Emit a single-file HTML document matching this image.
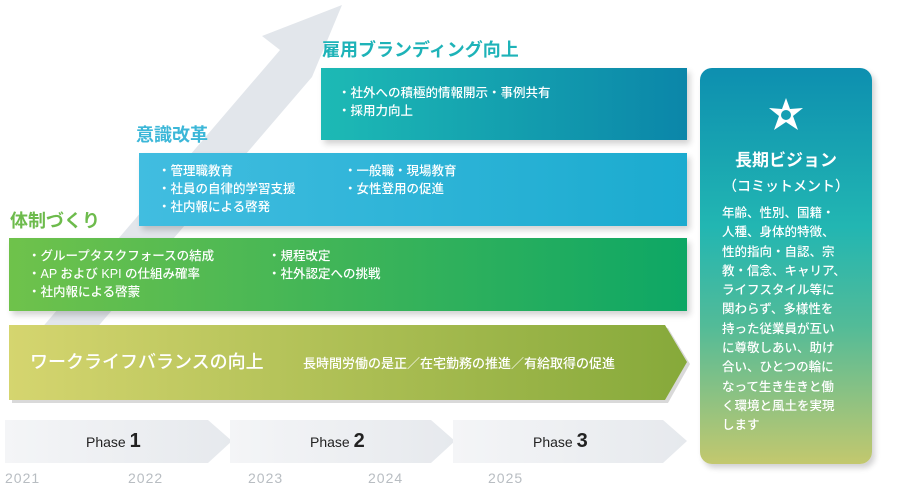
<!DOCTYPE html>
<html><head><meta charset="utf-8"><style>
body{margin:0;width:900px;height:488px;background:#fff;position:relative;overflow:hidden;font-family:"Liberation Sans","Noto Sans CJK JP",sans-serif}
.a{position:absolute;white-space:nowrap}
.box{position:absolute;box-shadow:3px 4px 6px rgba(0,0,0,.18)}
.t{font-weight:bold;font-size:18px}
.li{color:#fff;font-size:12.5px;line-height:18px;position:absolute;font-weight:500;white-space:nowrap}
.yr{position:absolute;top:470px;font-size:14px;color:#b8bdc2;letter-spacing:1px;font-weight:500}
.ph{position:absolute;top:430px;font-size:14px;color:#222;font-weight:500}
.ph b{font-size:20px;font-weight:bold}
</style></head><body>
<svg class="a" style="left:0;top:0" width="900" height="488">
<defs>
<linearGradient id="ph" x1="0" x2="1"><stop offset="0" stop-color="#f4f5f7"/><stop offset="1" stop-color="#e6e9ed"/></linearGradient>
<linearGradient id="wl" x1="0" x2="1"><stop offset="0" stop-color="#d5d56f"/><stop offset="1" stop-color="#86a93a"/></linearGradient>
</defs>
<polygon points="40,330 280,50 262,36 342,5 312,77 95,330" fill="#e2e6eb"/>
<polygon points="5,420 208,420 232,441 208,463 5,463" fill="url(#ph)"/>
<polygon points="230,420 431,420 455,441 431,463 230,463" fill="url(#ph)"/>
<polygon points="453,420 663,420 687,441 663,463 453,463" fill="url(#ph)"/>
<polygon points="12,328 668,328 690,364 668,403 12,403" fill="rgba(0,0,0,.15)"/>
<polygon points="9,325 665,325 687,362 665,400 9,400" fill="url(#wl)"/>
</svg>
<div class="a t" style="left:322px;top:36px;color:#1eb3b8">雇用ブランディング向上</div>
<div class="box" style="left:321px;top:68px;width:366px;height:72px;background:linear-gradient(90deg,#1dbab5,#0b86a9)"></div>
<div class="li" style="left:338px;top:84px">・社外への積極的情報開示・事例共有<br>・採用力向上</div>
<div class="a t" style="left:136px;top:121px;color:#3cb7d8">意識改革</div>
<div class="box" style="left:139px;top:153px;width:548px;height:73px;background:linear-gradient(90deg,#41bde0,#1babcf)"></div>
<div class="li" style="left:158px;top:162px">・管理職教育<br>・社員の自律的学習支援<br>・社内報による啓発</div>
<div class="li" style="left:344px;top:162px">・一般職・現場教育<br>・女性登用の促進</div>
<div class="a t" style="left:10px;top:207px;color:#6dbb4c">体制づくり</div>
<div class="box" style="left:9px;top:238px;width:678px;height:73px;background:linear-gradient(90deg,#6fc24b,#0da765)"></div>
<div class="li" style="left:28px;top:247px">・グループタスクフォースの結成<br>・AP および KPI の仕組み確率<br>・社内報による啓蒙</div>
<div class="li" style="left:268px;top:247px">・規程改定<br>・社外認定への挑戦</div>
<div class="a" style="left:30px;top:348px;color:#fff;font-size:18px;font-weight:500">ワークライフバランスの向上</div>
<div class="a" style="left:303px;top:353px;color:#fff;font-size:13px;font-weight:500">長時間労働の是正／在宅勤務の推進／有給取得の促進</div>
<div class="ph" style="left:86px">Phase <b>1</b></div>
<div class="ph" style="left:310px">Phase <b>2</b></div>
<div class="ph" style="left:533px">Phase <b>3</b></div>
<div class="yr" style="left:5px">2021</div><div class="yr" style="left:128px">2022</div><div class="yr" style="left:248px">2023</div><div class="yr" style="left:368px">2024</div><div class="yr" style="left:488px">2025</div>
<div class="box" style="left:700px;top:68px;width:172px;height:396px;border-radius:12px;background:linear-gradient(180deg,#0d8fb0 0%,#22b6b2 40%,#52bb98 65%,#c3c86e 100%)"></div>
<svg class="a" style="left:766px;top:95px" width="40" height="40" viewBox="0 0 40 40" fill="#fff">
<polygon points="20,3 24,14 37,13 27,21 32,35 20,27 8,35 13,21 3,13 16,14" fill="#fff"/>
<circle cx="20" cy="20" r="5" fill="#139fb3"/>
</svg>
<div class="a" style="left:700px;width:172px;text-align:center;top:146px;color:#fff;font-size:17px;font-weight:bold">長期ビジョン</div>
<div class="a" style="left:700px;width:172px;text-align:center;top:176px;color:#fff;font-size:14px;font-weight:500">（コミットメント）</div>
<div class="a" style="left:722px;top:204px;color:#fff;font-size:12.5px;line-height:19.3px;white-space:normal;width:140px;font-weight:500">年齢、性別、国籍・<br>人種、身体的特徴、<br>性的指向・自認、宗<br>教・信念、キャリア、<br>ライフスタイル等に<br>関わらず、多様性を<br>持った従業員が互い<br>に尊敬しあい、助け<br>合い、ひとつの輪に<br>なって生き生きと働<br>く環境と風土を実現<br>します</div>
</body></html>
